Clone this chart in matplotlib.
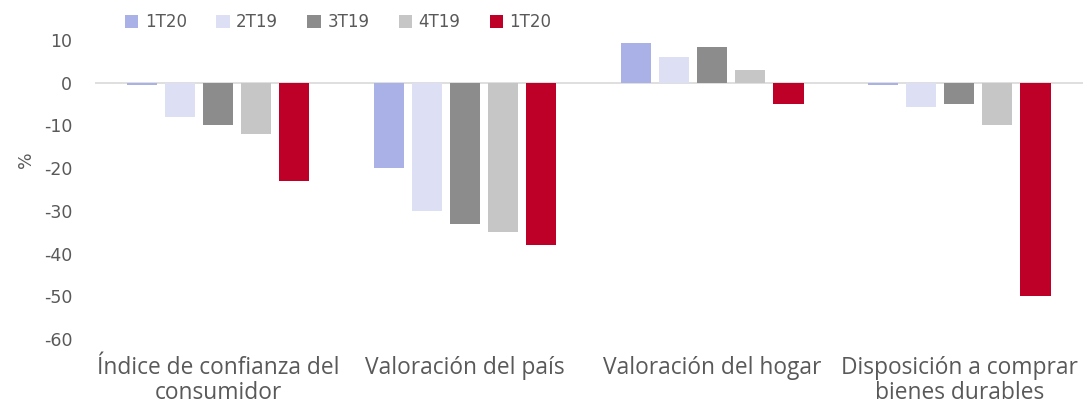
import matplotlib
matplotlib.use("Agg")
import matplotlib.pyplot as plt
import numpy as np

categories = ["Índice de confianza del\nconsumidor", "Valoración del país",
              "Valoración del hogar", "Disposición a comprar\nbienes durables"]
series_names = ["1T20", "2T19", "3T19", "4T19", "1T20"]
values = [
    [-0.5, -20, 9.3, -0.5],
    [-8, -30, 6, -5.7],
    [-10, -33, 8.3, -5],
    [-12, -35, 3, -10],
    [-23, -38, -5, -50],
]
colors = ["#AAB1E6", "#DDE0F5", "#8C8C8C", "#C6C6C6", "#BE0028"]
yticks = [10, 0, -10, -20, -30, -40, -50, -60]

text_color = "#595959"
fig = plt.figure(figsize=(10.87, 4.05), dpi=100)
ax = fig.add_axes([0.087, 0.163, 0.909, 0.738])

x = np.arange(len(categories))
step = 0.154
width = 0.124
for i, (name, vals, c) in enumerate(zip(series_names, values, colors)):
    ax.bar(x + (i - 2) * step, vals, width, color=c, label=name, zorder=3)

ax.axhline(0, color="#D9D9D9", lw=1.2, zorder=2)
ax.set_xlim(-0.5, len(categories) - 0.5)
ax.set_ylim(-60, 10)
ax.set_yticks(yticks)
ax.set_yticklabels([str(t) for t in yticks], fontsize=12.5, color=text_color, family="DejaVu Sans")
ax.set_xticks(x)
ax.set_xticklabels(categories, fontsize=16.4, color=text_color, family="Open Sans", linespacing=1.1)
ax.tick_params(axis="both", length=0)
ax.tick_params(axis="x", pad=12)
ax.tick_params(axis="y", pad=16)
for s in ax.spines.values():
    s.set_visible(False)
ax.set_ylabel("%", fontsize=12.5, color=text_color, family="DejaVu Sans")
ax.yaxis.set_label_coords(-0.06, 0.6)

leg = fig.legend(loc="upper left", bbox_to_anchor=(0.115, 0.967), ncol=5, frameon=False,
                 prop={"family": "DejaVu Sans", "size": 12}, handlelength=0.8, handleheight=0.8,
                 handletextpad=0.4, columnspacing=1.75, borderpad=0, borderaxespad=0)
for t in leg.get_texts():
    t.set_color(text_color)

fig.savefig("out.png", dpi=100)
